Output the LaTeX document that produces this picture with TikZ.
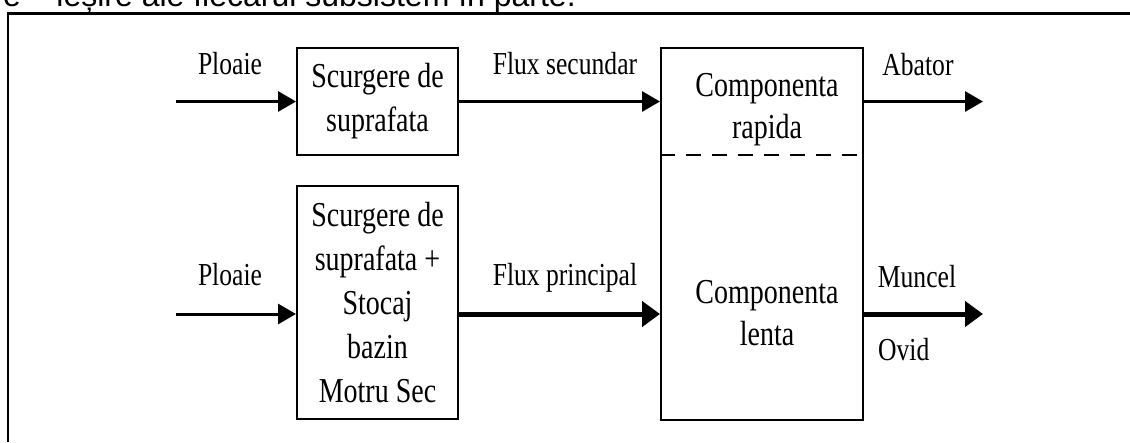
\documentclass[tikz,border=0pt]{standalone}
\usepackage{fontspec}
\setmainfont{Liberation Serif}[FakeStretch=0.8]
\newfontfamily\headfont{Liberation Sans}
\usetikzlibrary{arrows.meta}

\tikzset{
  blok/.style={draw, line width=2pt, align=center, inner sep=0pt,
    font=\fontsize{35}{44}\selectfont},
  textbloc/.style={align=center, inner sep=0pt, font=\fontsize{35}{42}\selectfont},
  eticheta/.style={anchor=base, inner sep=0pt, font=\fontsize{32}{36}\selectfont},
  flux/.style={line width=3pt, -{Triangle[length=18pt,width=20pt]}},
  fluxgros/.style={line width=5pt, -{Triangle[length=18pt,width=25pt]}},
}

\begin{document}
\begin{tikzpicture}[x=1pt, y=-1pt]
  \useasboundingbox (0,0) rectangle (1130,442);
  \clip (0,0) rectangle (1130,442);

  % header line, cut off at the top
  \node[anchor=base east, inner sep=0pt, font=\headfont\fontsize{32}{38}\selectfont]
    (antet) at (576,6) {e – ieșire ale fiecărui subsistem în parte.};

  % frame
  \draw[line width=2pt] (8,442) -- (8,13);
  \draw[line width=3pt] (7,13) -- (1130,13);

  % blocks
  \node[blok, minimum width=161pt, minimum height=107pt] (supr) at (377.5,101.5)
    {Scurgere de\\suprafata};
  \node[blok, minimum width=161pt, minimum height=233pt] (stoc) at (377.5,302.5)
    {Scurgere de\\suprafata +\\Stocaj\\bazin\\Motru Sec};
  \node[draw, line width=2pt, minimum width=202pt, minimum height=372pt] (comp) at (762,234) {};
  \coordinate (sep) at (0,155);
  \draw[line width=2pt, dash pattern=on 15pt off 11pt] (sep -| comp.west) -- (sep -| comp.east);
  \node[textbloc] (rapid) at (767,110) {Componenta\\rapida};
  \node[textbloc] (lent) at (767,313) {Componenta\\lenta};

  % inputs and outputs
  \coordinate (in1) at (176,101.5);
  \coordinate (in2) at (176,314);
  \coordinate (out1) at (983,101.5);
  \coordinate (out2) at (983,314);
  \draw[flux] (in1) -- (in1 -| supr.west);
  \draw[flux] (supr.east) -- (supr.east -| comp.west);
  \draw[flux] (in2) -- (in2 -| stoc.west);
  \draw[fluxgros] (in2 -| stoc.east) -- (in2 -| comp.west);
  \draw[flux] (out1 -| comp.east) -- (out1);
  \draw[fluxgros] (out2 -| comp.east) -- (out2);

  % labels
  \node[eticheta] (ploaie1) at (230,74) {Ploaie};
  \node[eticheta] (ploaie2) at (230,285) {Ploaie};
  \node[eticheta] (fluxsec) at (565,74) {Flux secundar};
  \node[eticheta] (fluxpr) at (565,285) {Flux principal};
  \node[eticheta] (abator) at (918,75) {Abator};
  \node[eticheta] (muncel) at (917,287) {Muncel};
  \node[eticheta, anchor=base west] (ovid) at (878,360) {Ovid};
\end{tikzpicture}
\end{document}
